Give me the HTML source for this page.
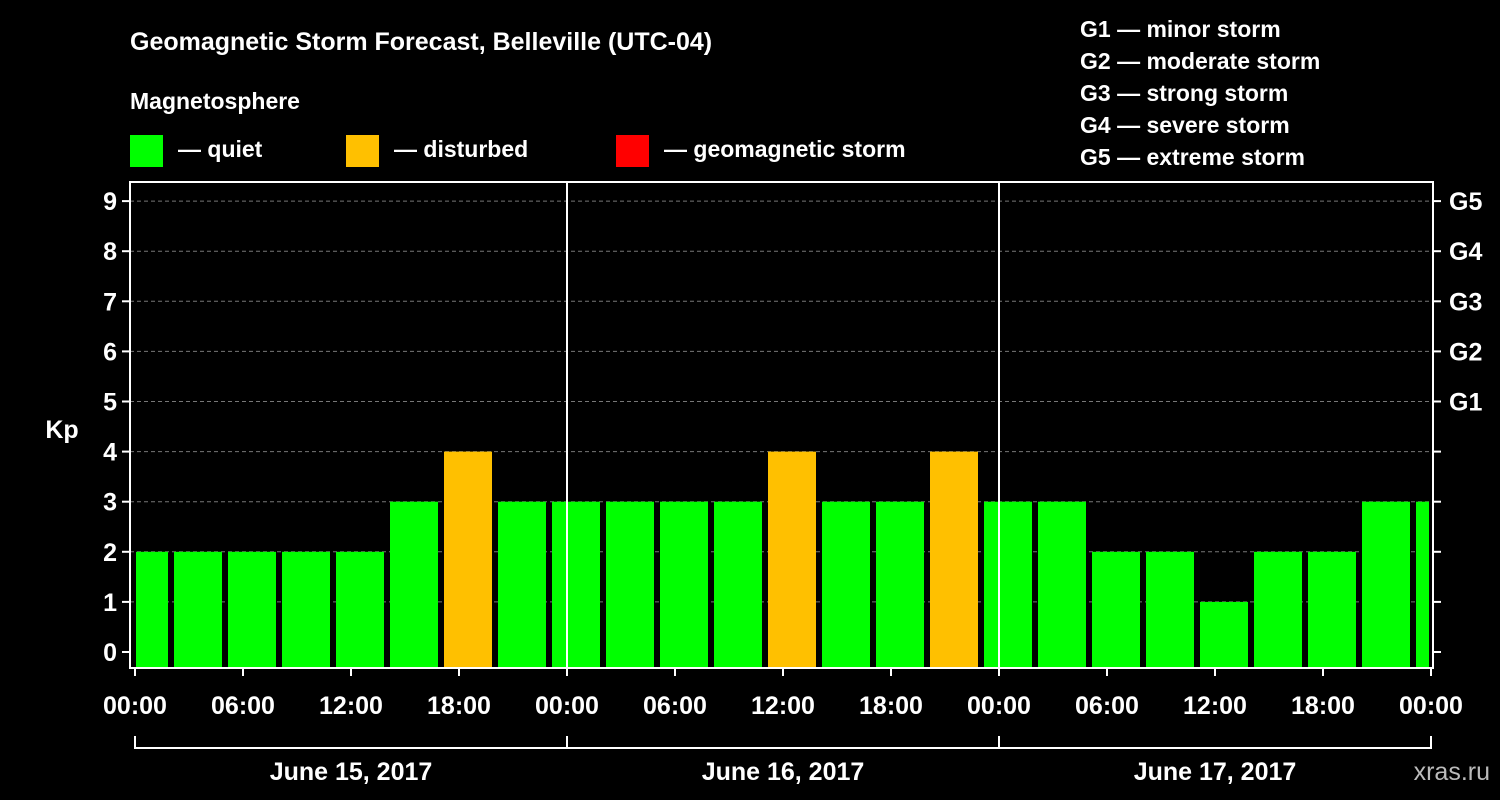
<!DOCTYPE html>
<html><head><meta charset="utf-8"><style>
html,body{margin:0;padding:0;background:#000;}
svg{display:block;font-family:"Liberation Sans",Arial,sans-serif;font-weight:bold;}
</style></head><body>
<svg id="chart" width="1500" height="800" viewBox="0 0 1500 800">
<rect width="1500" height="800" fill="#000"/>
<text x="130" y="50" fill="#fff" font-size="25">Geomagnetic Storm Forecast, Belleville (UTC-04)</text>
<text x="130" y="109" fill="#fff" font-size="23">Magnetosphere</text>
<rect x="130" y="135" width="33" height="32" fill="#00ff00"/>
<text x="178" y="157" fill="#fff" font-size="23">— quiet</text>
<rect x="346" y="135" width="33" height="32" fill="#ffc000"/>
<text x="394" y="157" fill="#fff" font-size="23">— disturbed</text>
<rect x="616" y="135" width="33" height="32" fill="#ff0000"/>
<text x="664" y="157" fill="#fff" font-size="23">— geomagnetic storm</text>
<g fill="#fff" font-size="23">
<text x="1080" y="37">G1 — minor storm</text>
<text x="1080" y="69">G2 — moderate storm</text>
<text x="1080" y="101">G3 — strong storm</text>
<text x="1080" y="133">G4 — severe storm</text>
<text x="1080" y="165">G5 — extreme storm</text>
</g>
<text x="62" y="438" fill="#fff" font-size="25" text-anchor="middle">Kp</text>
<text x="1490" y="780" fill="#bbb" font-size="25" text-anchor="end" font-weight="normal">xras.ru</text>
<g id="grid"></g><g id="bars"></g><g id="axes"></g>
</svg>
<script>
const kpValues=[2,2,2,2,2,3,4,3,3,3,3,3,4,3,3,4,3,3,2,2,1,2,2,3,3];
const yTicks=[0,1,2,3,4,5,6,7,8,9];
const gLabels=["G1","G2","G3","G4","G5"];
const gLevels=[5,6,7,8,9];
const xTickLabels=["00:00","06:00","12:00","18:00","00:00","06:00","12:00","18:00","00:00","06:00","12:00","18:00","00:00"];
const dayLabels=["June 15, 2017","June 16, 2017","June 17, 2017"];
const startHour=-1, slotHours=3;

const NS="http://www.w3.org/2000/svg";
const L=130,R=1433,T=182,B=668,X0=135,PXH=18;
const yS=v=>652-50.1*v;
const xS=h=>X0+h*PXH;
function mk(tag,attrs,parent,txt){const e=document.createElementNS(NS,tag);for(const k in attrs)e.setAttribute(k,attrs[k]);if(txt!==undefined)e.textContent=txt;parent.appendChild(e);return e;}
const grid=document.getElementById('grid'),bars=document.getElementById('bars'),axes=document.getElementById('axes');
mk('defs',{},grid).innerHTML='<clipPath id="pc"><rect x="136" y="'+T+'" width="'+(xS(72)-136-2)+'" height="'+(B-T)+'"/></clipPath>';
yTicks.forEach(v=>{if(v===0)return;
 const l=mk('line',{x1:L,x2:R,y1:yS(v),y2:yS(v),stroke:'#777','stroke-dasharray':'4,3','stroke-width':1},grid);
 
 
});
bars.setAttribute('clip-path','url(#pc)');
kpValues.forEach((v,i)=>{
 const h0=startHour+i*slotHours;
 const x=xS(h0)+3,w=slotHours*PXH-6;
 const c=v>=5?'#ff0000':(v>=4?'#ffc000':'#00ff00');
 const r=mk('rect',{x:x,y:yS(v),width:w,height:B-yS(v),fill:c},bars);
 
 
});
// frame
const f=mk('rect',{x:L,y:T,width:R-L,height:B-T,fill:'none',stroke:'#fff','stroke-width':2},axes);


[24,48].forEach(h=>{const l=mk('line',{x1:xS(h),x2:xS(h),y1:T,y2:B,stroke:'#fff','stroke-width':2},axes);
 
 });
yTicks.forEach(v=>{
 mk('line',{x1:L-8,x2:L,y1:yS(v),y2:yS(v),stroke:'#fff','stroke-width':2},axes);
 mk('line',{x1:R,x2:R+8,y1:yS(v),y2:yS(v),stroke:'#fff','stroke-width':2},axes);
 const t=mk('text',{x:L-13,y:yS(v)+9,fill:'#fff','font-size':25,'text-anchor':'end'},axes,String(v));
 
 
});
gLabels.forEach((g,i)=>{
 const t=mk('text',{x:1449,y:yS(gLevels[i])+9,fill:'#fff','font-size':25},axes,g);
 
 
});
xTickLabels.forEach((s,i)=>{
 const x=xS(i*6);
 mk('line',{x1:x,x2:x,y1:B,y2:B+8,stroke:'#fff','stroke-width':2},axes);
 const t=mk('text',{x:x,y:714,fill:'#fff','font-size':25,'text-anchor':'middle'},axes,s);
 
 
});
mk('line',{x1:xS(0),x2:xS(72),y1:748,y2:748,stroke:'#fff','stroke-width':2},axes);
[0,24,48,72].forEach(h=>mk('line',{x1:xS(h),x2:xS(h),y1:736,y2:749,stroke:'#fff','stroke-width':2},axes));
dayLabels.forEach((d,i)=>{
 const t=mk('text',{x:xS(i*24+12),y:780,fill:'#fff','font-size':25,'text-anchor':'middle'},axes,d);
 
 
});
</script>
</body></html>
